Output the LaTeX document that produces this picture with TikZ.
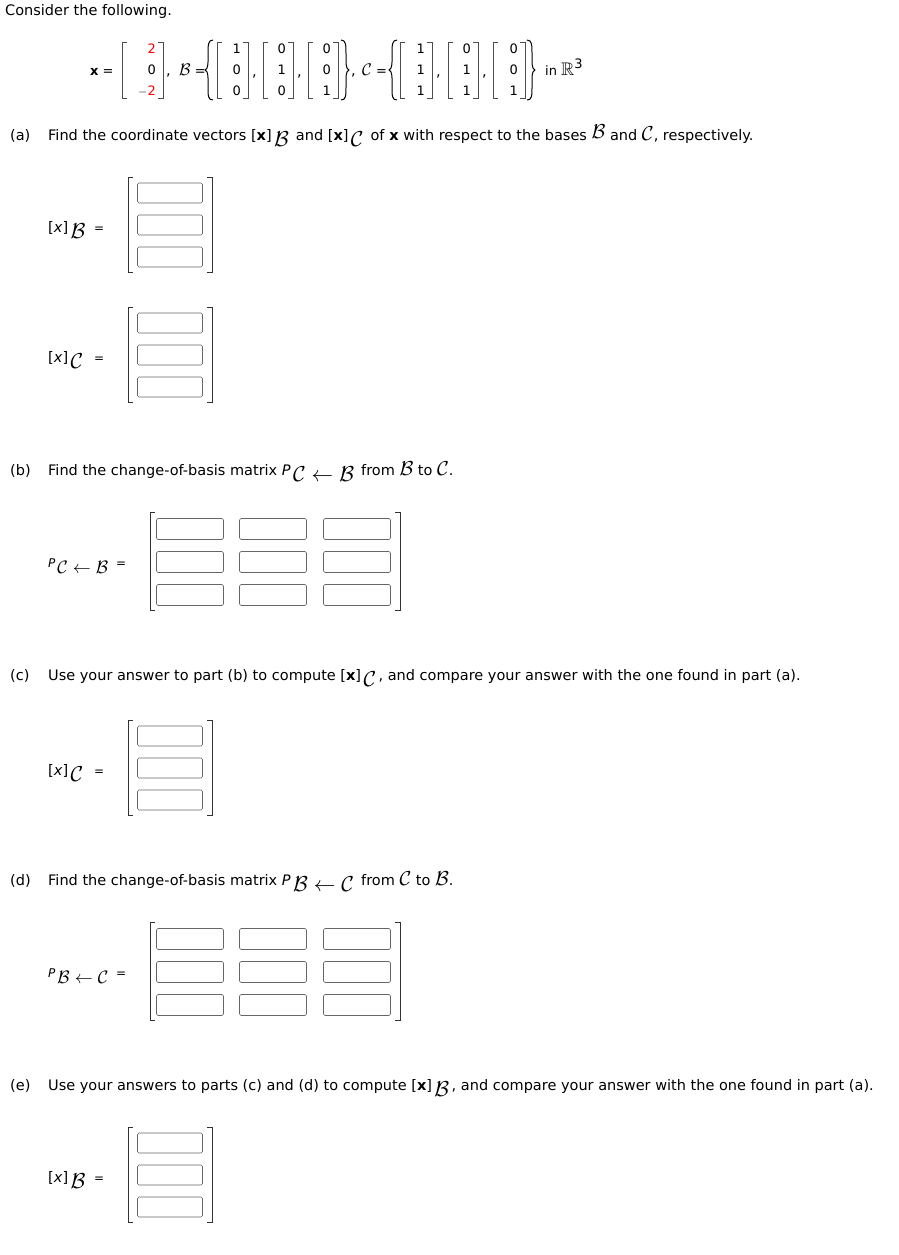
\documentclass[tikz,border=0pt]{standalone}
\usepackage{fontspec}
\usepackage{amssymb}
\usepackage{graphicx}
\setmainfont{DejaVu Sans}
\begin{document}
\begin{tikzpicture}[x=1pt,y=-1pt,
  txt/.style={anchor=base west,inner sep=0pt,font=\fontsize{14.5}{16}\selectfont},
  ent/.style={inner sep=0pt,font=\fontsize{13}{15}\selectfont},
  ansbox/.style={draw=black!60,rounded corners=1.5pt,minimum width=65pt,minimum height=20pt,inner sep=0pt,line width=0.6pt},
  brk/.style={line width=0.7pt,black!80},
  tbrk/.style={line width=0.6pt,black!70}]
\useasboundingbox (0,0) rectangle (899,1255);
\def\cB{\scalebox{1.4}{$\mathcal{B}$}}
\def\cC{\scalebox{1.4}{$\mathcal{C}$}}
\newcommand{\lsub}[1]{\,\raisebox{-6pt}{\scalebox{1.5}{$#1$}}\,}
\node[txt] (intro) at (5,16) {Consider the following.};
% top row
\newcommand{\tvec}[6]{%
  \draw[tbrk] (#1+5,42) -- (#1,42) -- (#1,98) -- (#1+5,98);
  \draw[tbrk] (#2-5,42) -- (#2,42) -- (#2,98) -- (#2-5,98);
  \node[ent,anchor=east] (#6a) at (#2-7,49) {#3};
  \node[ent,anchor=east] (#6b) at (#2-7,70) {#4};
  \node[ent,anchor=east] (#6c) at (#2-7,91) {#5};}
\newcommand{\lbr}[1]{\draw[line width=1pt] (#1+8,40) .. controls (#1+3,40) and (#1+3,45) .. (#1+3,55) -- (#1+3,62) .. controls (#1+3,68) and (#1+1,70) .. (#1,70) .. controls (#1+1,70) and (#1+3,72) .. (#1+3,78) -- (#1+3,86) .. controls (#1+3,96) and (#1+3,100) .. (#1+8,100);}
\newcommand{\rbr}[1]{\draw[line width=1pt] (#1-8,40) .. controls (#1-3,40) and (#1-3,45) .. (#1-3,55) -- (#1-3,62) .. controls (#1-3,68) and (#1-1,70) .. (#1,70) .. controls (#1-1,70) and (#1-3,72) .. (#1-3,78) -- (#1-3,86) .. controls (#1-3,96) and (#1-3,100) .. (#1-8,100);}
\node[txt,font=\fontsize{13}{15}\selectfont] (xeq) at (90,75) {\textbf{x} =};
\tvec{122}{163}{\textcolor{red}{2}}{0}{$-$\textcolor{red}{2}}{xv}
\node[txt] (c1) at (166,75) {,};
\node[txt,font=\fontsize{13}{15}\selectfont] (beq) at (179,75) {\cB\ =};
\lbr{205}
\tvec{217}{248}{1}{0}{0}{b1}
\node[txt] at (252,77) {,};
\tvec{263}{293}{0}{1}{0}{b2}
\node[txt] at (297,77) {,};
\tvec{308}{338}{0}{0}{1}{b3}
\rbr{349}
\node[txt] (c2) at (351,75) {,};
\node[txt,font=\fontsize{13}{15}\selectfont] (ceq) at (362,75) {\cC\ =};
\lbr{389}
\tvec{400}{432}{1}{1}{1}{c1v}
\node[txt] at (436,77) {,};
\tvec{448}{478}{0}{1}{1}{c2v}
\node[txt] at (482,77) {,};
\tvec{493}{525}{0}{0}{1}{c3v}
\rbr{535}
\node[txt,font=\fontsize{13}{15}\selectfont] (inR) at (545,75) {in \scalebox{1.4}{$\mathbb{R}$}\raisebox{6pt}{3}};
% headings
\node[txt] (ha) at (10,140) {(a)};
\node[txt] (hat) at (48,140) {Find the coordinate vectors [\textbf{x}]\lsub{\mathcal B} and [\textbf{x}]\lsub{\mathcal C} of \textbf{x} with respect to the bases \raisebox{2pt}{\cB} and \cC, respectively.};
\node[txt] (hb) at (10,475) {(b)};
\node[txt] (hbt) at (48,475) {Find the change-of-basis matrix \textit{P}\lsub{\mathcal C\leftarrow\mathcal B} from \cB\ to \cC.};
\node[txt] (hc) at (10,680) {(c)};
\node[txt] (hct) at (48,680) {Use your answer to part (b) to compute [\textbf{x}]\lsub{\mathcal C}, and compare your answer with the one found in part (a).};
\node[txt] (hd) at (10,885) {(d)};
\node[txt] (hdt) at (48,885) {Find the change-of-basis matrix \textit{P}\lsub{\mathcal B\leftarrow\mathcal C} from \cC\ to \cB.};
\node[txt] (he) at (10,1090) {(e)};
\node[txt] (het) at (48,1090) {Use your answers to parts (c) and (d) to compute [\textbf{x}]\lsub{\mathcal B}, and compare your answer with the one found in part (a).};
% answer vectors
\newcommand{\avec}[3]{%
  \draw[brk] (133,#1) -- (128,#1) -- (128,#1+95) -- (133,#1+95);
  \draw[brk] (207,#1) -- (212,#1) -- (212,#1+95) -- (207,#1+95);
  \node[ansbox] (#3a) at (170,#1+16) {};
  \node[ansbox] (#3b) at (170,#1+48) {};
  \node[ansbox] (#3c) at (170,#1+80) {};
  \node[txt] (#3l) at (48,#1+55) {[\textit{x}]\lsub{#2}};
  \node[txt,font=\fontsize{12}{14}\selectfont] (#3e) at (94,#1+55) {=};}
\avec{177}{\mathcal B}{va}
\avec{307}{\mathcal C}{vc}
\avec{720}{\mathcal C}{vcc}
\avec{1127}{\mathcal B}{ve}
% answer matrices
\newcommand{\amat}[3]{%
  \draw[brk] (155,#1) -- (150,#1) -- (150,#1+98) -- (155,#1+98);
  \draw[brk] (395,#1) -- (400,#1) -- (400,#1+98) -- (395,#1+98);
  \foreach \i/\xx in {1/190,2/273,3/357}{
    \foreach \j/\yy in {1/17,2/50,3/83}{
      \node[ansbox,minimum width=67pt,minimum height=21pt] (#3\i\j) at (\xx,#1+\yy) {};}}
  \node[txt,font=\fontsize{12}{14}\selectfont] (#3l) at (48,#1+55) {\textit{P}\lsub{#2}};
  \node[txt,font=\fontsize{12}{14}\selectfont] (#3e) at (116,#1+55) {=};}
\amat{512}{\mathcal C\leftarrow\mathcal B}{mb}
\amat{922}{\mathcal B\leftarrow\mathcal C}{md}
\end{tikzpicture}
\end{document}
